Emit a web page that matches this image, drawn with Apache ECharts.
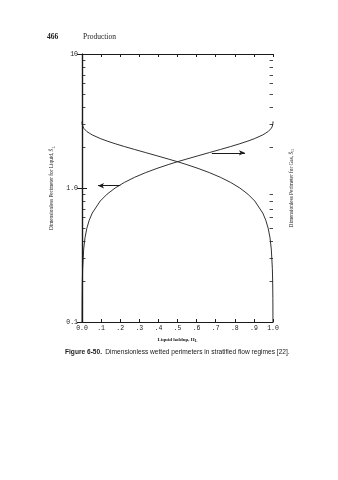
<!DOCTYPE html>
<html><head><meta charset="utf-8">
<script src="https://cdn.jsdelivr.net/npm/echarts@6/dist/echarts.min.js"></script>
<style>html,body{margin:0;padding:0;background:#fff}#c{width:338px;height:480px}</style>
</head><body><div id="c"></div>
<script>
// Liquid holdup (x) and dimensionless liquid wetted perimeter (left axis)
var liquidHoldup = [0.0002, 0.0007, 0.0017, 0.0033, 0.0089, 0.0157, 0.0252, 0.0378, 0.0536, 0.0956, 0.1315, 0.1736, 0.2215, 0.2745, 0.3318, 0.3923, 0.4550, 0.5, 0.5450, 0.6077, 0.6682, 0.7255, 0.7785, 0.8264, 0.8685, 0.9044, 0.9465, 0.9622, 0.9748, 0.9843, 0.9911, 0.9967, 0.9983, 0.9993, 0.9998, 1.0];
var liquidPerimeter = [0.10, 0.15, 0.20, 0.25, 0.35, 0.425, 0.50, 0.575, 0.65, 0.80, 0.90, 1.00, 1.10, 1.20, 1.30, 1.40, 1.50, 1.571, 1.64, 1.74, 1.84, 1.94, 2.04, 2.14, 2.24, 2.34, 2.49, 2.57, 2.64, 2.72, 2.79, 2.89, 2.94, 2.99, 3.04, 3.14];
// Gas wetted perimeter (right axis)
var gasHoldup = [0, 0.0002, 0.0007, 0.0017, 0.0033, 0.0089, 0.0157, 0.0252, 0.0378, 0.0536, 0.0956, 0.1315, 0.1736, 0.2215, 0.2745, 0.3318, 0.3923, 0.4550, 0.5, 0.5450, 0.6077, 0.6682, 0.7255, 0.7785, 0.8264, 0.8685, 0.9044, 0.9465, 0.9622, 0.9748, 0.9843, 0.9911, 0.9967, 0.9983, 0.9993, 0.9998];
var gasPerimeter = [3.14, 3.04, 2.99, 2.94, 2.89, 2.79, 2.72, 2.64, 2.57, 2.49, 2.34, 2.24, 2.14, 2.04, 1.94, 1.84, 1.74, 1.64, 1.571, 1.50, 1.40, 1.30, 1.20, 1.10, 1.00, 0.90, 0.80, 0.65, 0.575, 0.50, 0.425, 0.35, 0.25, 0.20, 0.15, 0.10];
var xTickLabels = ['0.0', '.1', '.2', '.3', '.4', '.5', '.6', '.7', '.8', '.9', '1.0'];
var yTickLabels = {'0.1': '0.1', '1': '1.0', '10': '10'};
var minorTicks = [0.2, 0.3, 0.4, 0.5, 0.6, 0.7, 0.8, 0.9, 2, 3, 4, 5, 6, 7, 8, 9];
// arrows: [x from, x to, y]
var liquidArrow = [0.20, 0.084, 1.04];
var gasArrow = [0.68, 0.853, 1.83];

var ink = '#1a1a1a';
var chart = echarts.init(document.getElementById('c'), null, {renderer: 'canvas'});

function pairs(xs, ys) { return xs.map(function (x, i) { return [x, ys[i]]; }); }

var minorLeft = minorTicks.map(function (v) { return [{coord: [0, v]}, {coord: [0.018, v]}]; });
var minorRight = minorTicks.map(function (v) { return [{coord: [1, v]}, {coord: [0.982, v]}]; });

var axisFont = {fontFamily: 'Liberation Mono', fontSize: 6.5, color: ink};

chart.setOption({
  animation: false,
  backgroundColor: '#fff',
  grid: {left: 82, right: 65, top: 54, bottom: 158, containLabel: false},
  xAxis: [{
    type: 'value', min: 0, max: 1, interval: 0.1, position: 'bottom',
    axisLine: {lineStyle: {color: ink, width: 1.2}},
    axisTick: {inside: true, length: 3, lineStyle: {color: ink}},
    splitLine: {show: false},
    axisLabel: Object.assign({margin: 3, formatter: function (v) { return xTickLabels[Math.round(v * 10)]; }}, axisFont),
    name: '{a|Liquid holdup, H}{s|L}', nameLocation: 'middle', nameGap: 11,
    nameTextStyle: {rich: {a: {fontFamily: 'Liberation Serif', fontWeight: 'bold', fontSize: 5, color: ink}, s: {fontFamily: 'Liberation Serif', fontWeight: 'bold', fontSize: 4, color: ink, verticalAlign: 'bottom', padding: [3, 0, 0, 0]}}}
  }, {
    type: 'value', min: 0, max: 1, interval: 0.1, position: 'top',
    axisLine: {show: true, lineStyle: {color: ink, width: 1.2}},
    axisTick: {inside: true, length: 3, lineStyle: {color: ink}},
    splitLine: {show: false}, axisLabel: {show: false}
  }],
  yAxis: [{
    type: 'log', logBase: 10, min: 0.1, max: 10, position: 'left',
    axisLine: {show: true, lineStyle: {color: ink, width: 1.2}},
    axisTick: {show: true, inside: true, length: 5, lineStyle: {color: ink}},
    splitLine: {show: false},
    axisLabel: Object.assign({margin: 4, formatter: function (v) {
      var k = String(Math.round(v * 10) / 10); return yTickLabels[k] || ''; }}, axisFont),
    name: '{a|Dimensionless Perimeter for Liquid, S\u0304}{s|L}', nameLocation: 'middle', nameRotate: 90, nameGap: 16,
    nameTextStyle: {rich: {a: {fontFamily: 'Liberation Serif', fontSize: 5.3, color: ink}, s: {fontFamily: 'Liberation Serif', fontSize: 4.2, color: ink, verticalAlign: 'bottom', padding: [3, 0, 0, 0]}}}
  }, {
    type: 'log', logBase: 10, min: 0.1, max: 10, position: 'right',
    axisLine: {show: true, lineStyle: {color: ink, width: 1.2}},
    axisTick: {show: true, inside: true, length: 5, lineStyle: {color: ink}},
    splitLine: {show: false}, axisLabel: {show: false},
    name: '{a|Dimensionless Perimeter for Gas, S\u0304}{s|G}', nameLocation: 'middle', nameRotate: 90, nameGap: 15,
    nameTextStyle: {rich: {a: {fontFamily: 'Liberation Serif', fontSize: 5.3, color: ink}, s: {fontFamily: 'Liberation Serif', fontSize: 4.2, color: ink, verticalAlign: 'bottom', padding: [3, 0, 0, 0]}}}
  }],
  series: [{
    name: 'Liquid', type: 'line', xAxisIndex: 0, yAxisIndex: 0,
    data: pairs(liquidHoldup, liquidPerimeter), showSymbol: false, smooth: false, clip: true,
    lineStyle: {color: ink, width: 0.9},
    markLine: {
      silent: true, symbol: ['none', 'none'], animation: false, label: {show: false},
      lineStyle: {color: ink, width: 0.8, type: 'solid'},
      data: minorLeft.concat(minorRight)
    }
  }, {
    name: 'Gas', type: 'line', xAxisIndex: 0, yAxisIndex: 1,
    data: pairs(gasHoldup, gasPerimeter), showSymbol: false, smooth: false, clip: true,
    lineStyle: {color: ink, width: 0.9},
    markLine: {
      silent: true, symbol: ['none', 'arrow'], symbolSize: [4, 6], animation: false, label: {show: false},
      lineStyle: {color: ink, width: 1, type: 'solid'},
      data: [
        [{coord: [liquidArrow[0], liquidArrow[2]]}, {coord: [liquidArrow[1], liquidArrow[2]]}],
        [{coord: [gasArrow[0], gasArrow[2]]}, {coord: [gasArrow[1], gasArrow[2]]}]
      ]
    }
  }],
  graphic: [
    {type: 'text', left: 47, top: 33, style: {text: '466', font: 'bold 7.5px "Liberation Serif"', fill: ink}},
    {type: 'text', left: 83, top: 33, style: {text: 'Production', font: '7.5px "Liberation Serif"', fill: ink}},
    {type: 'text', left: 65, top: 346, style: {
      text: '{b|Figure 6-50.} {r|Dimensionless wetted perimeters in stratified flow regimes [22].}',
      rich: {b: {font: 'bold 6.6px "Liberation Sans"', fill: ink}, r: {font: '6.6px "Liberation Sans"', fill: ink}}}}
  ]
});
</script></body></html>
